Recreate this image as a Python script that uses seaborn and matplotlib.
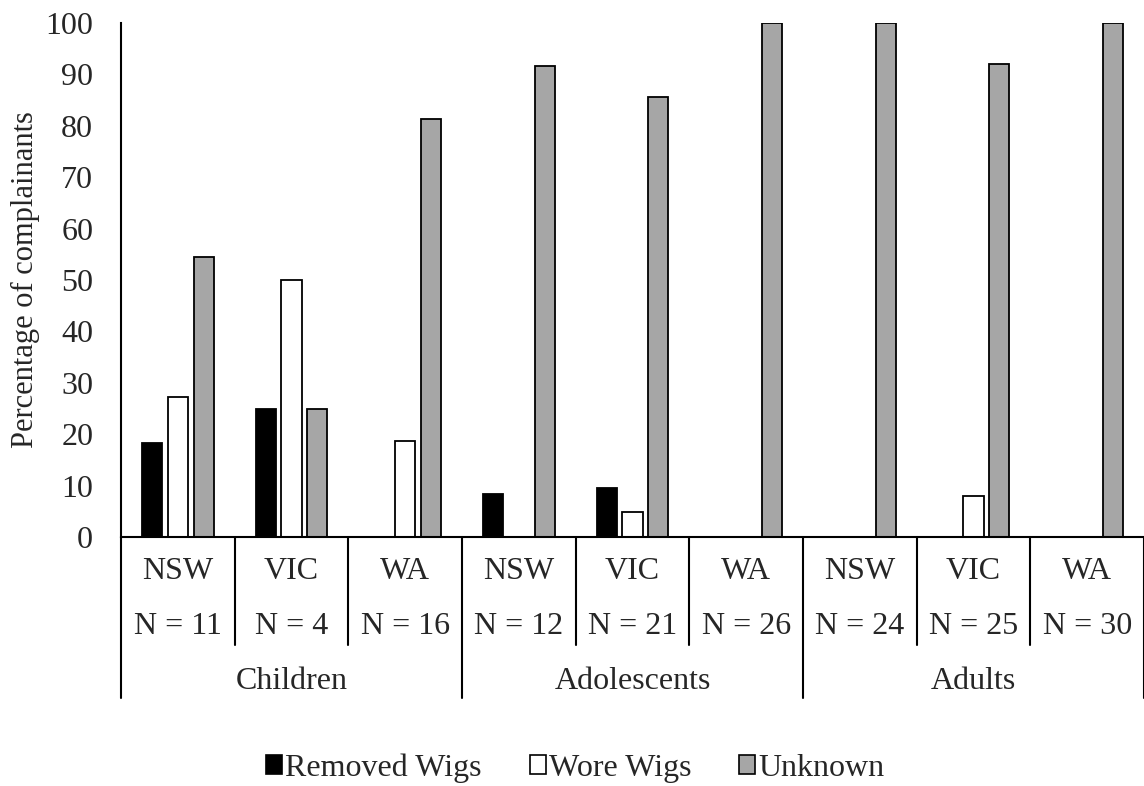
import numpy as np
import pandas as pd
import matplotlib
matplotlib.use("Agg")
import matplotlib.pyplot as plt
import seaborn as sns

# data
age_groups = ["Children", "Adolescents", "Adults"]
states = ["NSW", "VIC", "WA"]
n_sizes = [11, 4, 16, 12, 21, 26, 24, 25, 30]
removed = [18.2, 25.0, 0.0, 8.3, 9.5, 0.0, 0.0, 0.0, 0.0]
wore = [27.3, 50.0, 18.75, 0.0, 4.8, 0.0, 0.0, 8.0, 0.0]
unknown = [54.5, 25.0, 81.25, 91.7, 85.7, 100.0, 100.0, 92.0, 100.0]
series = ["Removed Wigs", "Wore Wigs", "Unknown"]
colors = ["#000000", "#FFFFFF", "#A6A6A6"]

rows = []
for i in range(9):
    for name, vals in zip(series, [removed, wore, unknown]):
        rows.append({"slot": i, "series": name, "pct": vals[i]})
df = pd.DataFrame(rows)

sns.set_theme(style="white")
plt.rcParams["font.family"] = ["Liberation Serif", "DejaVu Serif"]

fig = plt.figure(figsize=(11.44, 7.86), dpi=100)
ax = fig.add_axes([121 / 1144, 1 - 537 / 786, 1023 / 1144, 514 / 786])

sns.barplot(data=df, x="slot", y="pct", hue="series", hue_order=series,
            palette=colors, width=0.68, gap=0.22, edgecolor="black",
            linewidth=1.3, ax=ax, legend=False)

ax.set_ylim(0, 100)
ax.set_xlim(-0.5, 8.5)
ax.set_yticks(range(0, 101, 10))
ax.tick_params(axis="y", length=0, pad=20, labelsize=23)
ax.set_xticks([])
ax.set_xlabel("")
ax.set_ylabel("Percentage of complainants", fontsize=22, labelpad=4)
for s in ["top", "right"]:
    ax.spines[s].set_visible(False)
for s in ["left", "bottom"]:
    ax.spines[s].set_color("black")
    ax.spines[s].set_linewidth(1.5)

# multi-level category axis
trans = ax.get_xaxis_transform()
for i in range(9):
    ax.text(i, -0.068, states[i % 3], transform=trans, ha="center",
            va="center", fontsize=23)
    ax.text(i, -0.175, "N = %d" % n_sizes[i], transform=trans,
            ha="center", va="center", fontsize=23)
for g, name in enumerate(age_groups):
    ax.text(g * 3 + 1, -0.282, name, transform=trans, ha="center",
            va="center", fontsize=23)
for k in range(10):
    x = k - 0.5
    bottom = -0.314 if k % 3 == 0 else -0.21
    ax.plot([x, x], [0, bottom], transform=trans, color="black",
            lw=1.5, clip_on=False)

handles = [plt.Rectangle((0, 0), 1, 1, facecolor=c, edgecolor="black",
                         lw=1.2) for c in colors]
fig.legend(handles, series, loc="center", bbox_to_anchor=(0.503, 1 - 768 / 786),
           ncol=3, frameon=False, fontsize=23, handlelength=0.5,
           handleheight=0.5, handletextpad=0.1, columnspacing=1.5)

fig.savefig("out.png", dpi=100)
